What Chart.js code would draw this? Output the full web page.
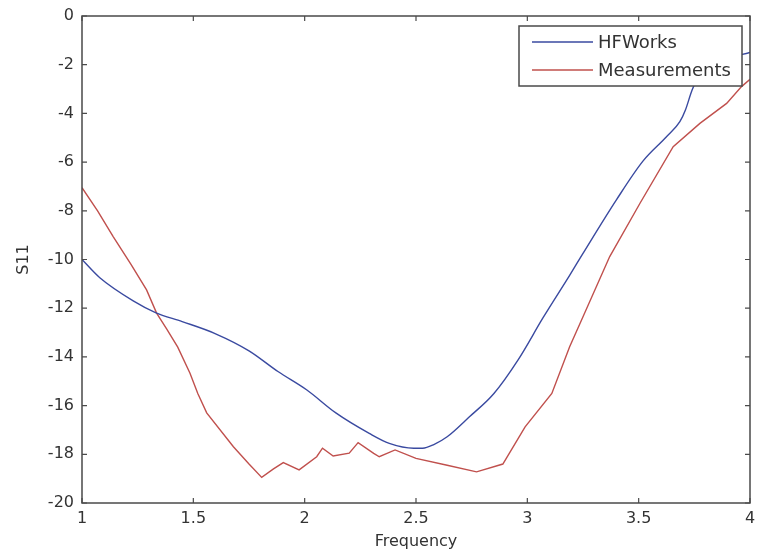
<!DOCTYPE html>
<html>
<head>
<meta charset="utf-8">
<script src="https://cdn.jsdelivr.net/npm/chart.js@4.4.0/dist/chart.umd.min.js"></script>
<style>
  html, body { margin: 0; padding: 0; background: #fff; }
  #wrap { width: 758px; height: 559px; }
</style>
</head>
<body>
<div id="wrap"><canvas id="s11_chart" width="758" height="559"></canvas></div>
<script>
// Datos
const xTicks = [1, 1.5, 2, 2.5, 3, 3.5, 4];
const yTicks = [0, -2, -4, -6, -8, -10, -12, -14, -16, -18, -20];

const hfFreq = [1.00, 1.08, 1.23, 1.33, 1.45, 1.60, 1.75, 1.88, 2.01, 2.14, 2.29, 2.38, 2.49, 2.53, 2.58, 2.64, 2.74, 2.85, 2.96, 3.07, 3.19, 3.25, 3.40, 3.52, 3.625, 3.685, 3.71, 3.74, 3.78, 3.88, 4.00];
const hfS11 = [-10.0, -10.75, -11.7, -12.18, -12.55, -13.05, -13.75, -14.6, -15.36, -16.3, -17.14, -17.55, -17.75, -17.75, -17.6, -17.28, -16.46, -15.5, -14.1, -12.4, -10.65, -9.75, -7.55, -5.95, -4.96, -4.34, -3.86, -3.04, -2.3, -1.8, -1.5];

const measFreq = [1.00, 1.07, 1.14, 1.22, 1.29, 1.335, 1.38, 1.43, 1.485, 1.52, 1.56, 1.68, 1.75, 1.807, 1.86, 1.904, 1.975, 2.054, 2.08, 2.128, 2.2, 2.24, 2.31, 2.335, 2.406, 2.50, 2.64, 2.772, 2.89, 2.99, 3.11, 3.19, 3.25, 3.37, 3.506, 3.655, 3.775, 3.895, 3.962, 4.00];
const measS11 = [-7.05, -8.0, -9.06, -10.2, -11.25, -12.2, -12.85, -13.6, -14.67, -15.5, -16.3, -17.69, -18.4, -18.95, -18.6, -18.34, -18.64, -18.1, -17.75, -18.07, -17.95, -17.52, -17.96, -18.1, -17.82, -18.17, -18.45, -18.72, -18.4, -16.87, -15.5, -13.58, -12.35, -9.88, -7.69, -5.37, -4.41, -3.59, -2.9, -2.6];

const seriesNames = ['HFWorks', 'Measurements'];
const seriesColors = ['#3a4aa0', '#c0504d'];

const axisColor = '#4a4a4a';
const textColor = '#333333';
const fontFamily = '"DejaVu Sans", sans-serif';

function toPoints(xs, ys) {
  return xs.map((x, i) => ({ x: x, y: ys[i] }));
}

// Caja estilo MATLAB con marcas hacia adentro
const boxPlugin = {
  id: 'matlabBox',
  afterDatasetsDraw(chart) {
    const { ctx, chartArea: a, scales } = chart;
    const len = 5;
    ctx.save();
    ctx.strokeStyle = axisColor;
    ctx.lineWidth = 1.5;
    ctx.strokeRect(a.left, a.top, a.right - a.left, a.bottom - a.top);
    ctx.lineWidth = 1.2;
    ctx.beginPath();
    xTicks.forEach(t => {
      const px = scales.x.getPixelForValue(t);
      ctx.moveTo(px, a.bottom); ctx.lineTo(px, a.bottom - len);
      ctx.moveTo(px, a.top); ctx.lineTo(px, a.top + len);
    });
    yTicks.forEach(t => {
      const py = scales.y.getPixelForValue(t);
      ctx.moveTo(a.left, py); ctx.lineTo(a.left + len, py);
      ctx.moveTo(a.right, py); ctx.lineTo(a.right - len, py);
    });
    ctx.stroke();
    ctx.restore();
  }
};

// Leyenda dentro del área del gráfico, arriba a la derecha
const legendPlugin = {
  id: 'insideLegend',
  afterDraw(chart) {
    const { ctx, chartArea: a } = chart;
    const boxW = 223, boxH = 60;
    const x0 = a.right - 8 - boxW;
    const y0 = a.top + 10;
    ctx.save();
    ctx.fillStyle = '#ffffff';
    ctx.fillRect(x0, y0, boxW, boxH);
    ctx.strokeStyle = axisColor;
    ctx.lineWidth = 1.5;
    ctx.strokeRect(x0, y0, boxW, boxH);
    ctx.font = '18px ' + fontFamily;
    ctx.textBaseline = 'middle';
    seriesNames.forEach((name, i) => {
      const cy = y0 + 16 + i * 28;
      ctx.strokeStyle = seriesColors[i];
      ctx.lineWidth = 1.4;
      ctx.beginPath();
      ctx.moveTo(x0 + 13, cy);
      ctx.lineTo(x0 + 74, cy);
      ctx.stroke();
      ctx.fillStyle = textColor;
      ctx.fillText(name, x0 + 79, cy + 1);
    });
    ctx.restore();
  }
};

function drawS11Chart(chartId) {
  const ctx = document.getElementById(chartId).getContext('2d');
  return new Chart(ctx, {
    type: 'line',
    data: {
      datasets: [{
        label: seriesNames[0],
        data: toPoints(hfFreq, hfS11),
        borderColor: seriesColors[0],
        borderWidth: 1.4,
        pointRadius: 0,
        cubicInterpolationMode: 'monotone'
      },
      {
        label: seriesNames[1],
        data: toPoints(measFreq, measS11),
        borderColor: seriesColors[1],
        borderWidth: 1.4,
        pointRadius: 0,
        tension: 0
      }]
    },
    options: {
      responsive: false,
      animation: false,
      layout: { padding: { left: 0, top: 16, right: 8, bottom: 0 } },
      plugins: {
        legend: { display: false },
        tooltip: { enabled: false }
      },
      scales: {
        x: {
          type: 'linear',
          min: 1,
          max: 4,
          afterBuildTicks: scale => { scale.ticks = xTicks.map(v => ({ value: v })); },
          afterFit: scale => {
            scale.height = 56;
            scale.paddingLeft = 0;
            scale.paddingRight = 0;
          },
          grid: { display: false, drawTicks: false },
          border: { display: false },
          ticks: {
            color: textColor,
            padding: 6,
            font: { family: fontFamily, size: 16 },
            callback: value => String(value)
          },
          title: {
            display: true,
            text: 'Frequency',
            color: textColor,
            padding: { top: 0, bottom: 8 },
            font: { family: fontFamily, size: 16 }
          }
        },
        y: {
          type: 'linear',
          min: -20,
          max: 0,
          afterBuildTicks: scale => { scale.ticks = yTicks.map(v => ({ value: v })); },
          afterFit: scale => {
            scale.width = 82;
            scale.paddingTop = 0;
            scale.paddingBottom = 0;
          },
          grid: { display: false, drawTicks: false },
          border: { display: false },
          ticks: {
            color: textColor,
            padding: 8,
            font: { family: fontFamily, size: 16 },
            callback: value => String(value)
          },
          title: {
            display: true,
            text: 'S11',
            color: textColor,
            padding: { top: 14, bottom: 0 },
            font: { family: fontFamily, size: 16 }
          }
        }
      }
    },
    plugins: [boxPlugin, legendPlugin]
  });
}

drawS11Chart('s11_chart');
</script>
</body>
</html>
